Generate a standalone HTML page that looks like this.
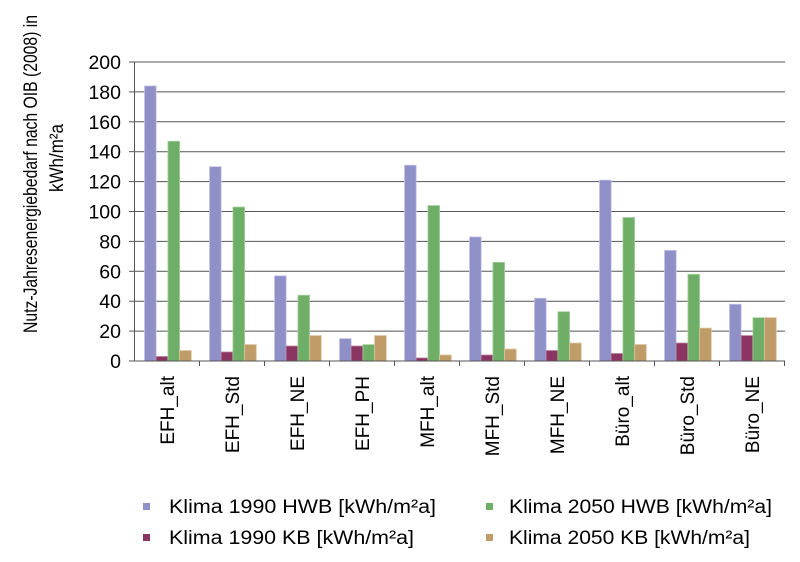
<!DOCTYPE html>
<html><head><meta charset="utf-8"><style>
html,body{margin:0;padding:0;background:#fff}
svg{display:block}
text{font-family:"Liberation Sans",sans-serif;fill:#000}
</style></head><body>
<svg width="800" height="562" xmlns="http://www.w3.org/2000/svg">
<g id="grid" stroke="#555" stroke-width="1"></g>
<g id="bars"></g>
<g id="axes"></g>
<text transform="translate(37,174) rotate(-90)" text-anchor="middle" font-size="19" textLength="318" lengthAdjust="spacingAndGlyphs">Nutz-Jahresenergiebedarf nach OIB (2008) in</text>
<text transform="translate(63,158) rotate(-90)" text-anchor="middle" font-size="19" textLength="68" lengthAdjust="spacingAndGlyphs">kWh/m²a</text>
<g font-size="19">
<rect x="143" y="503" width="7" height="7" fill="#9090c8"/>
<text x="169" y="513" textLength="267" lengthAdjust="spacingAndGlyphs">Klima 1990 HWB [kWh/m²a]</text>
<rect x="143" y="534" width="7" height="7" fill="#8b3563"/>
<text x="169" y="544" textLength="245" lengthAdjust="spacingAndGlyphs">Klima 1990 KB [kWh/m²a]</text>
<rect x="486" y="503" width="7" height="7" fill="#6fae67"/>
<text x="509" y="513" textLength="263" lengthAdjust="spacingAndGlyphs">Klima 2050 HWB [kWh/m²a]</text>
<rect x="486" y="534" width="7" height="7" fill="#c09c69"/>
<text x="509" y="544" textLength="241" lengthAdjust="spacingAndGlyphs">Klima 2050 KB [kWh/m²a]</text>
</g>
</svg>
<script>
const ns="http://www.w3.org/2000/svg";
function el(p,t,a,txt){const e=document.createElementNS(ns,t);for(const k in a)e.setAttribute(k,a[k]);if(txt!==undefined)e.textContent=txt;document.getElementById(p).appendChild(e);return e;}
const x0=134.5,x1=785,y0=361,sc=1.495,gw=65;
for(let v=0;v<=200;v+=20){const y=y0-v*sc;
 if(v>0)el('grid','line',{x1:x0,x2:x1,y1:y,y2:y});
 el('axes','line',{x1:129,x2:x0,y1:y,y2:y,stroke:'#555'});
 el('axes','text',{x:121,y:y+7,'text-anchor':'end','font-size':'19.5'},v);
}
el('axes','line',{x1:x0,x2:x0,y1:62,y2:y0,stroke:'#555'});
el('axes','line',{x1:x0,x2:x1,y1:y0,y2:y0,stroke:'#555'});
const names=["EFH_alt","EFH_Std","EFH_NE","EFH_PH","MFH_alt","MFH_Std","MFH_NE","Büro_alt","Büro_Std","Büro_NE"];
const data=[[184,3,147,7],[130,6,103,11],[57,10,44,17],[15,10,11,17],[131,2,104,4],[83,4,66,8],[42,7,33,12],[121,5,96,11],[74,12,58,22],[38,17,29,29]];
const cols=["#9090c8","#8b3563","#6fae67","#c09c69"],edge=["#c5c5e6","#b47a98","#a8d3a2","#dcc4a0"];
const bw=11.7;
data.forEach((d,i)=>{const gx=x0+i*gw;
 d.forEach((v,j)=>{const h=v*sc;el('bars','rect',{x:gx+10+j*bw,y:y0-h,width:bw,height:h,fill:cols[j],stroke:edge[j],'stroke-width':0.8});});
 el('axes','line',{x1:gx+gw,x2:gx+gw,y1:y0,y2:y0+5,stroke:'#555'});
 el('axes','text',{transform:`translate(${gx+gw/2+7},376) rotate(-90)`,'text-anchor':'end','font-size':'19'},names[i]);
});
</script>
</body></html>
